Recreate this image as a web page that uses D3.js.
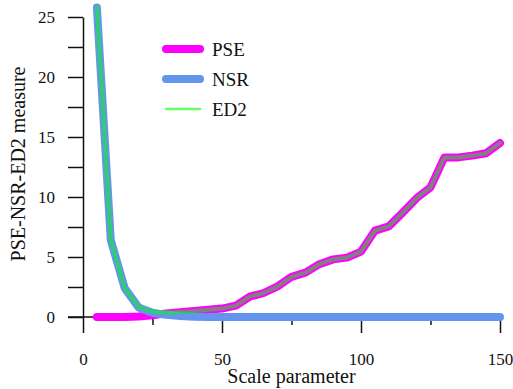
<!DOCTYPE html>
<html>
<head>
<meta charset="utf-8">
<script src="https://cdn.jsdelivr.net/npm/d3@7"></script>
<style>
  body { margin: 0; background: #fff; }
</style>
</head>
<body>
<script>
const w = 513
const h = 389
const serif = "'Liberation Serif', 'DejaVu Serif', 'Times New Roman', Times, serif"

// scale parameter values
const scales = [5, 10, 15, 20, 25, 30, 35, 40, 45, 50, 55, 60, 65, 70, 75,
  80, 85, 90, 95, 100, 105, 110, 115, 120, 125, 130, 135, 140, 145, 150]

const pse = [0, 0, 0, 0.05, 0.15, 0.3, 0.4, 0.5, 0.6, 0.7, 0.95, 1.7, 2.0, 2.55, 3.35,
  3.7, 4.4, 4.8, 4.95, 5.45, 7.2, 7.55, 8.7, 9.9, 10.8, 13.3, 13.3, 13.45, 13.65, 14.5]

const nsr = [25.8, 6.4, 2.4, 0.8, 0.35, 0.18, 0.08, 0.03, 0, 0, 0, 0, 0, 0, 0,
  0, 0, 0, 0, 0, 0, 0, 0, 0, 0, 0, 0, 0, 0, 0]

const ed2 = [25.8, 6.4, 2.4, 0.85, 0.45, 0.35, 0.42, 0.5, 0.6, 0.7, 0.95, 1.7, 2.0, 2.55, 3.35,
  3.7, 4.4, 4.8, 4.95, 5.45, 7.2, 7.55, 8.7, 9.9, 10.8, 13.3, 13.3, 13.45, 13.65, 14.5]

const xTicks = [0, 50, 100, 150]
const xMinor = [25, 75, 125]
const yTicks = [0, 5, 10, 15, 20, 25]
const yMinor = [2.5, 7.5, 12.5, 17.5, 22.5]

const seriesNames = ['PSE', 'NSR', 'ED2']

const svg = d3.select('body').append('svg')
  .attr('width', w)
  .attr('height', h)

const x = d3.scaleLinear().domain([0, 150]).range([83, 500])
const y = d3.scaleLinear().domain([0, 25]).range([317, 17])

// axes
svg.append('g')
  .attr('transform', `translate(0,${y(0)})`)
  .call(d3.axisBottom(x).tickValues(xMinor).tickSize(8).tickFormat(''))
  .call(g => g.select('.domain').remove())

svg.append('g')
  .attr('transform', `translate(0,${y(0)})`)
  .call(d3.axisBottom(x).tickValues(xTicks).tickSize(16).tickSizeOuter(0).tickPadding(20))
  .call(g => g.select('.domain').attr('d', `M${x(0) - 15},0H${x(150)}`))
  .call(g => g.selectAll('text').style('font-size', '17px'))

svg.append('g')
  .attr('transform', `translate(${x(0)},0)`)
  .call(d3.axisLeft(y).tickValues(yMinor).tickSize(15).tickFormat(''))
  .call(g => g.select('.domain').remove())

svg.append('g')
  .attr('transform', `translate(${x(0)},0)`)
  .call(d3.axisLeft(y).tickValues(yTicks).tickSize(15).tickSizeOuter(0).tickPadding(13))
  .call(g => g.selectAll('text').style('font-size', '17px'))

svg.selectAll('g').attr('font-family', null)
svg.selectAll('.tick line, .domain').attr('stroke', '#111').attr('stroke-width', 1.5)

// lines
const line = (vals) => d3.line()
  .x((d, i) => x(scales[i]))
  .y(d => y(d))(vals)

svg.append('path')
  .attr('d', line(pse))
  .attr('fill', 'none')
  .attr('stroke', '#ff00ff')
  .attr('stroke-width', 8)
  .attr('stroke-linecap', 'round')
  .attr('stroke-linejoin', 'round')

svg.append('path')
  .attr('d', line(nsr))
  .attr('fill', 'none')
  .attr('stroke', '#6495ed')
  .attr('stroke-width', 8)
  .attr('stroke-linecap', 'round')
  .attr('stroke-linejoin', 'round')

svg.append('path')
  .attr('d', line(ed2))
  .attr('fill', 'none')
  .attr('stroke', '#00ff00')
  .attr('stroke-opacity', 0.5)
  .attr('stroke-width', 4)
  .attr('stroke-linecap', 'round')
  .attr('stroke-linejoin', 'round')

// legend
const legendStyle = [
  { color: '#ff00ff', width: 8, opacity: 1 },
  { color: '#6495ed', width: 8, opacity: 1 },
  { color: '#00ff00', width: 2.5, opacity: 0.6 }
]
const legend = svg.selectAll('.legend')
  .data(seriesNames)
  .enter()
  .append('g')
  .attr('transform', (d, i) => `translate(0,${49 + i * 30})`)

legend.append('line')
  .attr('x1', 166).attr('x2', 200)
  .attr('stroke', (d, i) => legendStyle[i].color)
  .attr('stroke-width', (d, i) => legendStyle[i].width)
  .attr('stroke-opacity', (d, i) => legendStyle[i].opacity)
  .attr('stroke-linecap', 'round')

legend.append('text')
  .attr('x', 212)
  .attr('y', 7)
  .style('font-size', '19px')
  .text(d => d)

// axis titles
svg.append('text')
  .attr('x', x(75))
  .attr('y', 383)
  .attr('text-anchor', 'middle')
  .style('font-size', '20px')
  .text('Scale parameter')

svg.append('text')
  .attr('transform', 'translate(25,164) rotate(-90)')
  .attr('text-anchor', 'middle')
  .style('font-size', '20px')
  .text('PSE-NSR-ED2 measure')

svg.selectAll('text')
  .style('font-family', serif)
  .attr('fill', '#111')
</script>
</body>
</html>
